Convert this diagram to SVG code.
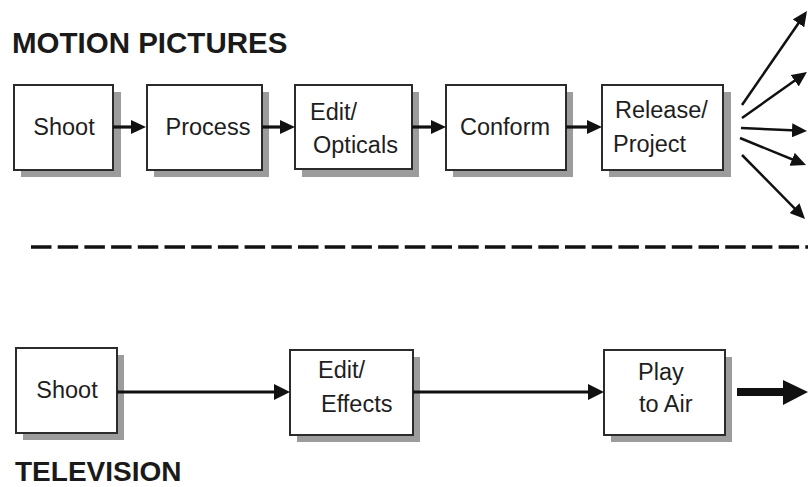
<svg xmlns="http://www.w3.org/2000/svg" width="808" height="487" viewBox="0 0 808 487">
<style>
.box{fill:#fff;stroke:#2b2b2b;stroke-width:2}
.sh{fill:#9c9c9c}
.t{font-family:"Liberation Sans",Arial,sans-serif;font-size:23.5px;fill:#1e1e1e}
.h{font-family:"Liberation Sans",Arial,sans-serif;font-weight:bold;fill:#1a1a1a}
.c{stroke:#111;fill:none;stroke-width:3.2}
.f{stroke:#111;fill:none;stroke-width:2.5}
</style>
<defs>
<marker id="ah" markerUnits="userSpaceOnUse" markerWidth="16" markerHeight="14" refX="11" refY="7" orient="auto"><path d="M0,0 L15,7 L0,14 z" fill="#111"/></marker>
<marker id="ah2" markerUnits="userSpaceOnUse" markerWidth="17" markerHeight="16" refX="12" refY="8" orient="auto"><path d="M0,0 L16,8 L0,16 z" fill="#111"/></marker>
</defs>
<text class="h" x="12" y="53" font-size="29.5">MOTION PICTURES</text>
<text class="h" x="15" y="481" font-size="28">TELEVISION</text>

<g id="mp-shoot"><rect class="sh" x="21" y="92" width="100" height="85"/><rect class="box" x="14" y="85" width="99" height="85"/><text class="t" x="64" y="135" text-anchor="middle">Shoot</text></g>
<g id="mp-process"><rect class="sh" x="154" y="92" width="115" height="85"/><rect class="box" x="147" y="85" width="115" height="85"/><text class="t" x="208" y="135" text-anchor="middle">Process</text></g>
<g id="mp-edit"><rect class="sh" x="302" y="92" width="117" height="85"/><rect class="box" x="295" y="85" width="117" height="84"/><text class="t" x="310" y="120">Edit/</text><text class="t" x="313" y="153">Opticals</text></g>
<g id="mp-conform"><rect class="sh" x="453" y="92" width="120" height="85"/><rect class="box" x="446" y="85" width="120" height="85"/><text class="t" x="505" y="135" text-anchor="middle">Conform</text></g>
<g id="mp-release"><rect class="sh" x="609" y="92" width="122" height="85"/><rect class="box" x="602" y="85" width="121" height="85"/><text class="t" x="615" y="118">Release/</text><text class="t" x="613" y="152">Project</text></g>

<g id="tv-shoot"><rect class="sh" x="23" y="355" width="101" height="85"/><rect class="box" x="16" y="348" width="101" height="85"/><text class="t" x="67" y="398" text-anchor="middle">Shoot</text></g>
<g id="tv-edit"><rect class="sh" x="297" y="357" width="123" height="85"/><rect class="box" x="290" y="350" width="123" height="85"/><text class="t" x="318" y="378">Edit/</text><text class="t" x="321" y="412">Effects</text></g>
<g id="tv-play"><rect class="sh" x="611" y="357" width="121" height="85"/><rect class="box" x="604" y="350" width="121" height="85"/><text class="t" x="638" y="380">Play</text><text class="t" x="639" y="412">to Air</text></g>

<g id="connectors">
<line class="c" x1="113" y1="127" x2="142" y2="127" marker-end="url(#ah)"/>
<line class="c" x1="262" y1="127" x2="291" y2="127" marker-end="url(#ah)"/>
<line class="c" x1="412" y1="127" x2="442" y2="127" marker-end="url(#ah)"/>
<line class="c" x1="566" y1="127" x2="598" y2="127" marker-end="url(#ah)"/>
<line class="f" x1="742" y1="105" x2="804.7" y2="14.3" marker-end="url(#ah)"/>
<line class="f" x1="742" y1="118" x2="803.7" y2="74.3" marker-end="url(#ah)"/>
<line class="f" x1="741" y1="128" x2="803" y2="130.8" marker-end="url(#ah)"/>
<line class="f" x1="740" y1="138" x2="802.3" y2="163.5" marker-end="url(#ah)"/>
<line class="f" x1="742" y1="155" x2="802.2" y2="216.1" marker-end="url(#ah)"/>
<line x1="31" y1="247" x2="808" y2="247" stroke="#111" stroke-width="3.4" stroke-dasharray="20.5 6.2"/>
<line class="c" x1="117" y1="392" x2="286" y2="392" marker-end="url(#ah2)"/>
<line class="c" x1="413" y1="392" x2="600" y2="392" marker-end="url(#ah2)"/>
<path d="M737,388 L783,388 L783,380 L808,392 L783,405 L783,396 L737,396 z" fill="#111"/>
</g>
</svg>
